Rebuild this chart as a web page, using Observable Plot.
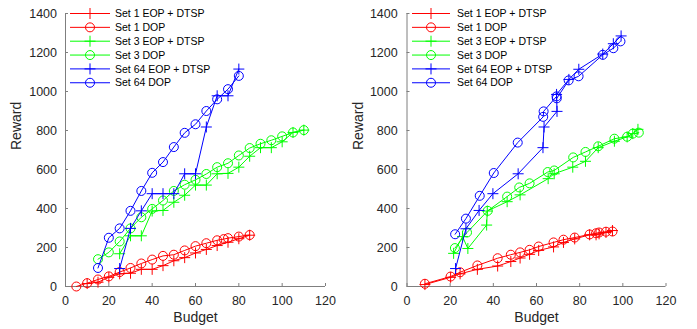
<!DOCTYPE html>
<html>
<head>
<meta charset="utf-8">
<script src="https://cdn.jsdelivr.net/npm/d3@7"></script>
<script src="https://cdn.jsdelivr.net/npm/@observablehq/plot@0.6"></script>
<style>
  body { margin: 0; background: #fff; }
  #wrap { position: relative; width: 697px; height: 329px; overflow: hidden; font-family: "Liberation Sans", Arial, Helvetica, sans-serif; }
  .panel { position: absolute; top: 0; }
  .legend { position: absolute; top: 0; left: 0; }
</style>
</head>
<body>
<div id="wrap"></div>
<script>
// ---------- series metadata ----------
const seriesNames = ["Set 1 EOP + DTSP", "Set 1 DOP", "Set 3 EOP + DTSP", "Set 3 DOP", "Set 64 EOP + DTSP", "Set 64 DOP"];
const seriesColors = ["#ff0000", "#ff0000", "#00ff00", "#00ff00", "#0000ff", "#0000ff"];
const seriesMarkers = ["plus", "circle", "plus", "circle", "plus", "circle"];
const xTicks = [0, 20, 40, 60, 80, 100, 120];
const yTicks = [0, 200, 400, 600, 800, 1000, 1200, 1400];
const xLabel = "Budget";
const yLabel = "Reward";

// ---------- left panel ----------
const leftSet1EopBudget = [10, 15, 20, 25, 30, 35, 40, 45, 50, 55, 60, 65, 70, 75, 80, 85];
const leftSet1EopReward = [15, 22, 47, 65, 68, 88, 88, 107, 132, 148, 172, 190, 210, 227, 245, 263];
const leftSet1DopBudget = [5, 10, 15, 20, 25, 30, 35, 40, 45, 50, 55, 60, 65, 70, 73, 75, 80, 85];
const leftSet1DopReward = [0, 17, 36, 52, 74, 95, 118, 138, 157, 163, 185, 207, 222, 237, 243, 248, 256, 264];
const leftSet3EopBudget = [25, 30, 35, 40, 45, 50, 55, 60, 65, 70, 75, 80, 85, 90, 95, 100, 105, 110];
const leftSet3EopReward = [168, 260, 260, 387, 390, 432, 468, 520, 520, 578, 580, 612, 668, 712, 712, 742, 790, 802];
const leftSet3DopBudget = [15, 20, 25, 30, 35, 40, 45, 50, 55, 60, 65, 70, 75, 80, 85, 90, 95, 100, 105, 110];
const leftSet3DopReward = [140, 175, 231, 298, 355, 398, 441, 490, 522, 547, 577, 612, 632, 672, 710, 732, 750, 770, 790, 802];
const leftSet64EopBudget = [25, 30, 35, 40, 45, 50, 55, 60, 65, 70, 75, 80];
const leftSet64EopReward = [92, 298, 388, 476, 476, 476, 578, 578, 818, 978, 978, 1115];
const leftSet64DopBudget = [15, 20, 25, 30, 35, 40, 45, 50, 55, 60, 65, 70, 75, 80];
const leftSet64DopReward = [95, 250, 298, 388, 490, 583, 638, 715, 788, 832, 900, 960, 1012, 1080];

// ---------- right panel ----------
const rightSet1EopBudget = [8.3, 20.2, 24.6, 32.6, 42, 48.1, 52.4, 56.8, 61, 67.9, 72.5, 77.7, 84.6, 87.6, 89, 92.2, 95.2];
const rightSet1EopReward = [10, 47, 65, 88, 105, 128, 146, 165, 185, 203, 226, 244, 265, 265, 270, 277, 287];
const rightSet1DopBudget = [8.3, 20.2, 24.6, 32.6, 42, 48.1, 52.4, 56.8, 61, 67.9, 72.5, 77.7, 84.6, 87.6, 89, 92.2, 95.2];
const rightSet1DopReward = [14, 51, 73, 108, 145, 163, 175, 188, 205, 226, 240, 251, 267, 273, 277, 281, 282];
const rightSet3EopBudget = [21.6, 25.7, 28.2, 36.9, 37.2, 46.4, 52.4, 65.4, 68.2, 76.8, 82.7, 88.6, 96.1, 102, 104.6, 107];
const rightSet3EopReward = [170, 256, 195, 315, 387, 435, 470, 553, 578, 612, 642, 712, 745, 767, 784, 806];
const rightSet3DopBudget = [22.2, 27.8, 37.4, 46.4, 52, 56.8, 65.2, 68.2, 77, 82.7, 88.6, 96.1, 102, 104.6, 107.4];
const rightSet3DopReward = [197, 277, 388, 461, 508, 529, 587, 595, 662, 690, 719, 758, 768, 784, 789];
const rightSet64EopBudget = [22.5, 27.3, 33.4, 39.8, 51.5, 63, 63.5, 69.5, 69.3, 75, 79.6, 90.7, 95.6, 99.2];
const rightSet64EopReward = [92, 296, 390, 476, 578, 712, 818, 898, 985, 1062, 1114, 1192, 1245, 1285];
const rightSet64DopBudget = [22.3, 27.3, 33.7, 40.2, 51.3, 63.1, 63.3, 69.3, 69.4, 74.9, 79.5, 90.7, 95.6, 98.9];
const rightSet64DopReward = [268, 348, 465, 582, 738, 870, 898, 975, 965, 1057, 1078, 1188, 1222, 1257];

// ---------- build tables ----------
function makeRows(pairs) {
  const rows = [];
  pairs.forEach(([b, r], i) => {
    b.forEach((v, j) => rows.push({ series: seriesNames[i], idx: i, budget: v, reward: r[j] }));
  });
  return rows;
}
const leftRows = makeRows([
  [leftSet1EopBudget, leftSet1EopReward], [leftSet1DopBudget, leftSet1DopReward],
  [leftSet3EopBudget, leftSet3EopReward], [leftSet3DopBudget, leftSet3DopReward],
  [leftSet64EopBudget, leftSet64EopReward], [leftSet64DopBudget, leftSet64DopReward]
]);
const rightRows = makeRows([
  [rightSet1EopBudget, rightSet1EopReward], [rightSet1DopBudget, rightSet1DopReward],
  [rightSet3EopBudget, rightSet3EopReward], [rightSet3DopBudget, rightSet3DopReward],
  [rightSet64EopBudget, rightSet64EopReward], [rightSet64DopBudget, rightSet64DopReward]
]);

const plusSymbol = {
  draw(ctx, size) {
    const r = Math.sqrt(size / Math.PI);
    ctx.moveTo(-r, 0); ctx.lineTo(r, 0);
    ctx.moveTo(0, -r); ctx.lineTo(0, r);
  }
};

const FONT = '"Liberation Sans", Arial, Helvetica, sans-serif';
const AXIS_GRAY = "#7f7f7f";
const TEXT_COL = "#262626";
const fmt = d3.format("d");

function panel(rows, cfg) {
  const marks = [
    Plot.ruleX([0], { stroke: AXIS_GRAY, strokeWidth: 1 }),
    Plot.ruleY([0], { stroke: AXIS_GRAY, strokeWidth: 1 }),
    Plot.axisX({ ticks: xTicks, tickSize: -3, tickFormat: () => "", label: null, stroke: AXIS_GRAY }),
    Plot.axisY({ ticks: yTicks, tickSize: -3, tickFormat: () => "", label: null, stroke: AXIS_GRAY }),
    Plot.axisX({ ticks: xTicks, tickSize: 0, tickPadding: 10, tickFormat: fmt, label: null, fontSize: 12.5, fill: TEXT_COL }),
    Plot.axisY({ ticks: yTicks, tickSize: 0, tickPadding: cfg.yPad, tickFormat: fmt, label: null, fontSize: 12.5, fill: TEXT_COL }),
    Plot.text([xLabel], { frameAnchor: "bottom", dy: 31, fontSize: 14, fill: TEXT_COL, lineAnchor: "middle" }),
    Plot.text([yLabel], { frameAnchor: "left", dx: cfg.yLabelDx, rotate: -90, fontSize: 14, fill: TEXT_COL, lineAnchor: "middle" })
  ];
  seriesNames.forEach((name, i) => {
    const data = rows.filter(d => d.idx === i);
    marks.push(Plot.line(data, { x: "budget", y: "reward", stroke: seriesColors[i], strokeWidth: 1, curve: "linear" }));
    if (seriesMarkers[i] === "circle") {
      marks.push(Plot.dot(data, { x: "budget", y: "reward", r: 4.5, stroke: seriesColors[i], strokeWidth: 1, fill: "none" }));
    } else {
      marks.push(Plot.dot(data, { x: "budget", y: "reward", r: 5.5, symbol: plusSymbol, stroke: seriesColors[i], strokeWidth: 1, fill: "none" }));
    }
  });
  const svg = Plot.plot({
    width: cfg.width, height: 329,
    marginLeft: cfg.ml, marginRight: cfg.mr, marginTop: 13, marginBottom: 43,
    x: { domain: [0, 120] },
    y: { domain: [0, 1400] },
    style: { fontFamily: FONT, background: "transparent", overflow: "visible" },
    marks
  });
  svg.classList.add("panel");
  svg.style.left = cfg.left + "px";
  return svg;
}

function legend(cfg) {
  const svg = d3.create("svg").attr("class", "legend").attr("width", 697).attr("height", 329)
    .style("left", "0px").style("pointer-events", "none");
  seriesNames.forEach((name, i) => {
    const y = 13.5 + i * 13.85;
    const g = svg.append("g");
    g.append("line").attr("x1", cfg.x1).attr("x2", cfg.x2).attr("y1", y).attr("y2", y)
      .attr("stroke", seriesColors[i]).attr("stroke-width", 1);
    const mx = (cfg.x1 + cfg.x2) / 2;
    if (seriesMarkers[i] === "circle") {
      g.append("circle").attr("cx", mx).attr("cy", y).attr("r", 4.5).attr("fill", "none").attr("stroke", seriesColors[i]);
    } else {
      g.append("path").attr("d", `M${mx - 5.5},${y}H${mx + 5.5}M${mx},${y - 5.5}V${y + 5.5}`).attr("stroke", seriesColors[i]).attr("fill", "none");
    }
    g.append("text").attr("x", cfg.tx).attr("y", y).attr("dy", "0.35em")
      .attr("font-family", FONT).attr("font-size", 10.5).attr("fill", "#000").text(name);
  });
  return svg.node();
}

const wrap = document.getElementById("wrap");
wrap.appendChild(panel(leftRows, { left: 0, width: 348, ml: 65, mr: 23, yPad: 8.5, yLabelDx: -49 }));
wrap.appendChild(panel(rightRows, { left: 347, width: 350, ml: 59.5, mr: 31.5, yPad: 9.3, yLabelDx: -48.5 }));
wrap.appendChild(legend({ x1: 70, x2: 110, tx: 115 }));
wrap.appendChild(legend({ x1: 412, x2: 450, tx: 457 }));
</script>
</body>
</html>
